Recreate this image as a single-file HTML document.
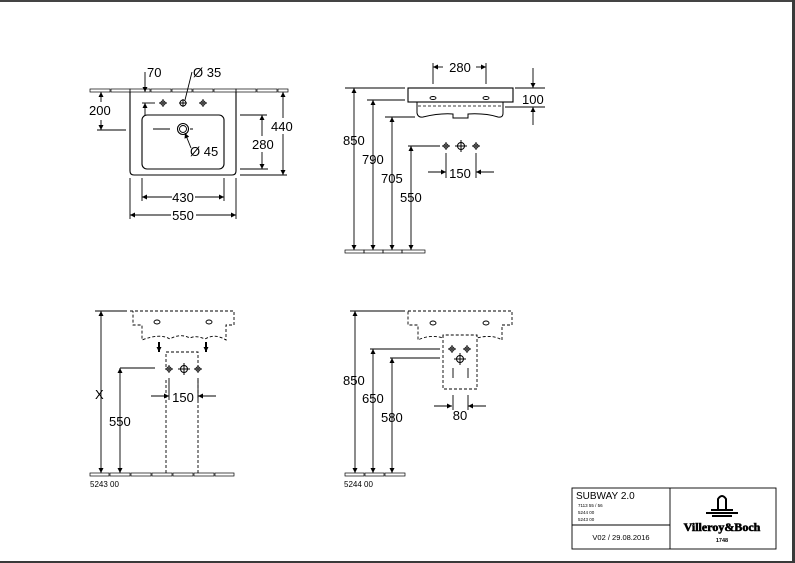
<!DOCTYPE html>
<html><head><meta charset="utf-8"><style>
html,body{margin:0;padding:0;background:#fff}
svg{display:block}
text{font-family:"Liberation Sans",sans-serif;fill:#000}
</style></head><body>
<svg width="795" height="563" viewBox="0 0 795 563" xmlns="http://www.w3.org/2000/svg">
<defs>
<marker id="a" viewBox="0 0 10 10" refX="10" refY="5" markerWidth="7" markerHeight="5" orient="auto-start-reverse" markerUnits="userSpaceOnUse"><path d="M0,0L10,5L0,10z" fill="#000"/></marker>
<g id="v"><circle r="2.2" fill="none" stroke="#000" stroke-width="0.9"/><path d="M-4,0H4M0,-4V4" stroke="#000" stroke-width="0.9"/></g>
<g id="V"><circle r="3.5" fill="none" stroke="#000" stroke-width="1"/><path d="M-6,0H6M0,-6V6" stroke="#000" stroke-width="1"/></g>
</defs>
<rect x="0" y="0" width="795" height="2" fill="#444"/>
<rect x="792" y="0" width="3" height="563" fill="#3a3a3a"/>
<rect x="0" y="561" width="795" height="2" fill="#3a3a3a"/>

<g stroke="#000" stroke-width="0.9" fill="none">
<!-- TOP LEFT -->
<g stroke-width="0.7">
<rect x="90" y="89" width="20" height="3"/><rect x="111" y="89" width="19" height="3"/>
<rect x="130" y="89" width="20" height="3"/><rect x="151" y="89" width="20" height="3"/><rect x="172" y="89" width="20" height="3"/><rect x="193" y="89" width="20" height="3"/><rect x="214" y="89" width="22" height="3"/>
<rect x="236" y="89" width="20" height="3"/><rect x="257" y="89" width="20" height="3"/><rect x="278" y="89" width="10" height="3"/>
</g>
<path d="M130,92V171Q130,175 134,175H232Q236,175 236,171V92" stroke-width="1.1"/>
<rect x="142" y="115" width="82" height="54" rx="5" stroke-width="1.1"/>
<use href="#v" x="163" y="103"/><use href="#v" x="203" y="103"/>
<circle cx="183" cy="103" r="3" /><path d="M179,103H187M183,99V107"/>
<circle cx="183" cy="129" r="5.5" stroke-width="1.1"/><circle cx="183" cy="129" r="3.5"/>
<path d="M153,129H170M190,129H193"/>
<path d="M97,130H126"/><path d="M101,92V102" marker-start="url(#a)"/><path d="M101,130V120" marker-start="url(#a)"/>
<path d="M145,72V92" marker-end="url(#a)"/><path d="M142,103H155"/><path d="M145,115V103" marker-end="url(#a)"/>
<path d="M192,72L185,100"/><path d="M191,148L185,133" marker-end="url(#a)"/>
<path d="M240,115H267M240,169H268"/><path d="M262,115V136" marker-start="url(#a)"/><path d="M262,152V169" marker-end="url(#a)"/>
<path d="M240,175H287"/><path d="M283,92V118" marker-start="url(#a)"/><path d="M283,134V175" marker-end="url(#a)"/>
<path d="M142,178V201M224,178V201"/><path d="M142,197H172" marker-start="url(#a)"/><path d="M195,197H224" marker-end="url(#a)"/>
<path d="M130,178V219M236,178V219"/><path d="M130,215H171" marker-start="url(#a)"/><path d="M196,215H236" marker-end="url(#a)"/>

<!-- TOP RIGHT -->
<rect x="408" y="88" width="105" height="14" stroke-width="1.1"/>
<path d="M417,102V113Q418,118 423,117Q440,113 453,114V118H468V114Q485,113 498,117Q503,118 503,113V102" stroke-width="1"/>
<path d="M418,106H503" stroke-dasharray="3,2" stroke-width="0.7"/>
<ellipse cx="433" cy="98" rx="3" ry="1.5"/><ellipse cx="486" cy="98" rx="3" ry="1.5"/>
<path d="M433,63V84M486,63V84"/><path d="M433,67H443" marker-start="url(#a)"/><path d="M476,67H486" marker-end="url(#a)"/>
<path d="M515,88H545M505,107H545"/><path d="M533,68V88" marker-end="url(#a)"/><path d="M533,125V107" marker-end="url(#a)"/>
<path d="M345,88H405M367,100H405M385,117H415M408,146H440"/>
<path d="M354,88V250" marker-start="url(#a)" marker-end="url(#a)"/>
<path d="M373,100V250" marker-start="url(#a)" marker-end="url(#a)"/>
<path d="M392,117V250" marker-start="url(#a)" marker-end="url(#a)"/>
<path d="M411,146V250" marker-start="url(#a)" marker-end="url(#a)"/>
<use href="#v" x="446" y="146"/><use href="#V" x="461" y="146"/><use href="#v" x="476" y="146"/>
<path d="M446,153V178M476,153V178"/><path d="M428,172H446" marker-end="url(#a)"/><path d="M494,172H476" marker-end="url(#a)"/>
<g stroke-width="0.7"><rect x="345" y="250" width="19" height="3"/><rect x="364" y="250" width="19" height="3"/><rect x="383" y="250" width="19" height="3"/><rect x="402" y="250" width="23" height="3"/></g>

<!-- BOTTOM LEFT -->
<g stroke-dasharray="3,2">
<path d="M130,311H234V325H226V340Q215,333 205,339Q196,335 190,338Q180,333 170,339Q160,333 142,340V325H133V311"/>
<path d="M166,367V352H198V367"/>
<path d="M166,380V473M198,380V473"/>
</g>
<ellipse cx="157" cy="322" rx="3" ry="2"/><ellipse cx="209" cy="322" rx="3" ry="2"/>
<path d="M159,342V352" marker-end="url(#a)" stroke-width="2"/><path d="M206,342V352" marker-end="url(#a)" stroke-width="2"/>
<use href="#v" x="169" y="369"/><use href="#V" x="184" y="369"/><use href="#v" x="198" y="369"/>
<path d="M95,311H127M120,368H155"/>
<path d="M101,311V473" marker-start="url(#a)" marker-end="url(#a)"/>
<path d="M120,368V473" marker-start="url(#a)" marker-end="url(#a)"/>
<path d="M169,378V400M198,378V400"/><path d="M151,396H169" marker-end="url(#a)"/><path d="M216,396H198" marker-end="url(#a)"/>
<g stroke-width="0.7"><rect x="90" y="473" width="19" height="3"/><rect x="110" y="473" width="20" height="3"/><rect x="131" y="473" width="20" height="3"/><rect x="152" y="473" width="20" height="3"/><rect x="173" y="473" width="20" height="3"/><rect x="194" y="473" width="20" height="3"/><rect x="215" y="473" width="19" height="3"/></g>

<!-- BOTTOM RIGHT -->
<g stroke-dasharray="3,2">
<path d="M408,311H512V325H502V340Q492,334 477,338V335H443V338Q430,334 418,340V325H408Z"/>
<path d="M443,335V389H477V335"/>
</g>
<ellipse cx="433" cy="323" rx="3" ry="2"/><ellipse cx="486" cy="323" rx="3" ry="2"/>
<use href="#v" x="452" y="349"/><use href="#v" x="467" y="349"/><use href="#V" x="460" y="359"/>
<path d="M453,368V378M468,368V378M453,395V410M468,395V410"/>
<path d="M434,406H452" marker-end="url(#a)"/><path d="M486,406H468" marker-end="url(#a)"/>
<path d="M350,311H405M370,349H440M390,358H440"/>
<path d="M355,311V473" marker-start="url(#a)" marker-end="url(#a)"/>
<path d="M373,349V473" marker-start="url(#a)" marker-end="url(#a)"/>
<path d="M392,358V473" marker-start="url(#a)" marker-end="url(#a)"/>
<g stroke-width="0.7"><rect x="345" y="473" width="19" height="3"/><rect x="365" y="473" width="19" height="3"/><rect x="385" y="473" width="20" height="3"/></g>

<rect x="572" y="488" width="204" height="61"/>
<path d="M670,488V549M572,525H670"/>
</g>

<g font-size="13">
<text x="147" y="77">70</text>
<text x="193" y="77">Ø 35</text>
<text x="89" y="115">200</text>
<text x="190" y="156">Ø 45</text>
<text x="252" y="149">280</text>
<text x="271" y="131">440</text>
<text x="183" y="202" text-anchor="middle">430</text>
<text x="183" y="220" text-anchor="middle">550</text>
<text x="460" y="72" text-anchor="middle">280</text>
<text x="522" y="104">100</text>
<text x="343" y="145">850</text>
<text x="362" y="164">790</text>
<text x="381" y="183">705</text>
<text x="400" y="202">550</text>
<text x="460" y="178" text-anchor="middle">150</text>
<text x="95" y="399">X</text>
<text x="109" y="426">550</text>
<text x="183" y="402" text-anchor="middle">150</text>
<text x="343" y="385">850</text>
<text x="362" y="403">650</text>
<text x="381" y="422">580</text>
<text x="460" y="420" text-anchor="middle">80</text>
</g>
<text x="90" y="487" font-size="8">5243 00</text>
<text x="344" y="487" font-size="8">5244 00</text>
<text x="576" y="499" font-size="10">SUBWAY 2.0</text>
<text x="578" y="507" font-size="4.5">7113 55 / 56</text>
<text x="578" y="514" font-size="4.5">5244 00</text>
<text x="578" y="521" font-size="4.5">5243 00</text>
<text x="621" y="540" font-size="7.5" text-anchor="middle">V02 / 29.08.2016</text>
<path d="M718,509V499Q722,493 726,499V509M711,510H733M706,513H738M712,516H732" stroke="#000" stroke-width="2" fill="none"/>
<text x="722" y="531" font-weight="bold" font-size="12" text-anchor="middle" style="font-family:'Liberation Serif',serif" stroke="#000" stroke-width="0.6">Villeroy&amp;Boch</text>
<text x="722" y="542" font-size="5.5" font-weight="bold" text-anchor="middle">1748</text>
</svg>
</body></html>
